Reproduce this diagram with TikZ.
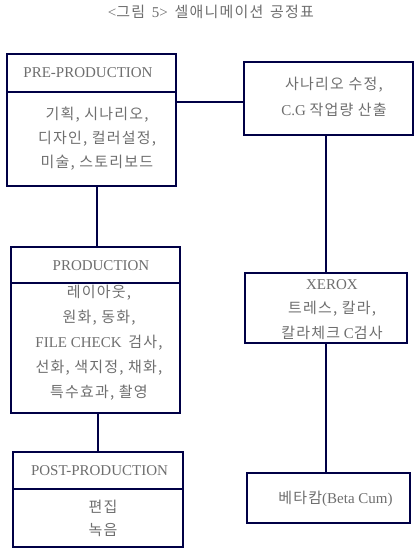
\documentclass[tikz,border=0pt]{standalone}
\usepackage{fontspec}
\setmainfont{Liberation Serif}
\newfontfamily\kr[LetterSpace=8]{Noto Sans CJK KR}
\newcommand\K[1]{{\kr #1}}
\definecolor{boxc}{RGB}{0,0,70}
\definecolor{txtc}{RGB}{110,110,110}
\begin{document}
\begin{tikzpicture}[x=1pt,y=-1pt,
  box/.style={draw=boxc, line width=1.6pt, inner sep=0pt},
  txt/.style={text=txtc, font=\fontsize{15pt}{25pt}\selectfont, align=center, inner sep=0pt},
  link/.style={draw=boxc, line width=1.6pt}]
\useasboundingbox (0,0) rectangle (416,555);

% title
\node[txt] (title) at (211,12) {<\K{그림}\hspace{3pt} 5>\hspace{3pt} \K{셀애니메이션}\hspace{3pt} \K{공정표}};

% boxes
\node[box, minimum width=169pt, minimum height=38pt] (prehead) at (91.5,73) {};
\node[box, minimum width=169pt, minimum height=94pt] (prebody) at (91.5,139) {};
\node[box, minimum width=169pt, minimum height=73pt] (cg) at (328.5,98.5) {};
\node[box, minimum width=169pt, minimum height=36pt] (prodhead) at (95.5,265) {};
\node[box, minimum width=169pt, minimum height=130pt] (prodbody) at (95.5,348) {};
\node[box, minimum width=162pt, minimum height=70pt] (xerox) at (326,308) {};
\node[box, minimum width=170pt, minimum height=37pt] (posthead) at (98,470.5) {};
\node[box, minimum width=170pt, minimum height=58pt] (postbody) at (98,518) {};
\node[box, minimum width=163pt, minimum height=50pt] (beta) at (328.5,498) {};

% texts
\node[txt] (prehtxt) at (88,73) {PRE-PRODUCTION};
\node[txt, font=\fontsize{15pt}{24pt}\selectfont] (prebtxt) at (97,139)
  {\K{기획, 시나리오,}\\ \K{디자인, 컬러설정,}\\ \K{미술, 스토리보드}};
\node[txt, font=\fontsize{15pt}{26pt}\selectfont] (cgtxt) at (334,97)
  {\K{사나리오 수정,}\\ C.G \K{작업량 산출}};
\node[txt] (prodhtxt) at (101,266) {PRODUCTION};
\node[txt] (prodbtxt) at (99,343)
  {\K{레이아웃,}\\ \K{원화, 동화,}\\ FILE CHECK\hspace{3pt} \K{검사,}\\ \K{선화, 색지정, 채화,}\\ \K{특수효과, 촬영}};
\node[txt, font=\fontsize{15pt}{24.5pt}\selectfont] (xeroxtxt) at (332,309.5)
  {XEROX\\ \K{트레스, 칼라,}\\ \K{칼라체크} C\K{검사}};
\node[txt] (posthtxt) at (99.5,471) {POST-PRODUCTION};
\node[txt, font=\fontsize{15pt}{23pt}\selectfont] (postbtxt) at (103,518.5)
  {\K{편집}\\ \K{녹음}};
\node[txt] (betatxt) at (335.5,499) {\K{베타캄}(Beta Cum)};

% connectors
\coordinate (xa) at (97,0);
\coordinate (xb) at (98,0);
\coordinate (xc) at (326,0);
\coordinate (yh) at (0,102);
\draw[link] (prebody.south -| xa) -- (prodhead.north -| xa);
\draw[link] (prodbody.south -| xb) -- (posthead.north -| xb);
\draw[link] (prebody.east |- yh) -- (cg.west |- yh);
\draw[link] (cg.south -| xc) -- (xerox.north -| xc);
\draw[link] (xerox.south -| xc) -- (beta.north -| xc);
\end{tikzpicture}
\end{document}
